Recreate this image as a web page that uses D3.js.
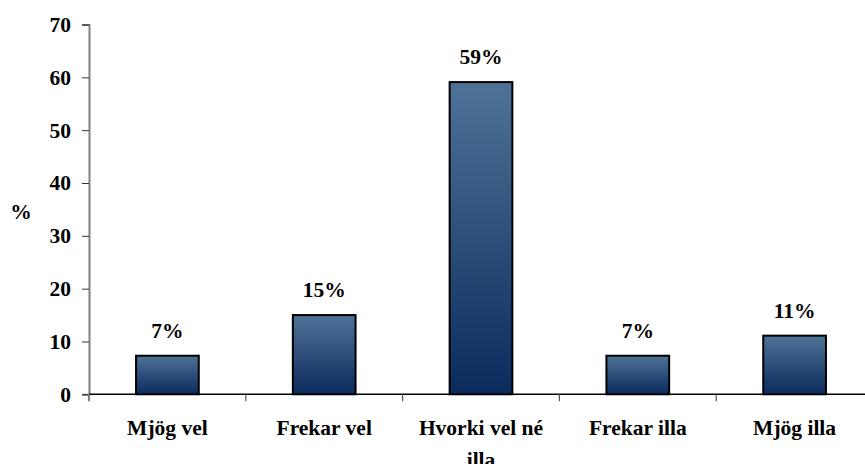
<!DOCTYPE html>
<html>
<head>
<meta charset="utf-8">
<script src="https://cdn.jsdelivr.net/npm/d3@7/dist/d3.min.js"></script>
<style>
  body { margin: 0; background: #fff; }
  svg text { font-family: "Liberation Serif", "Times New Roman", serif; font-weight: bold; fill: #000; }
</style>
</head>
<body>
<svg id="chart" width="865" height="464"></svg>
<script>
;(function(d3) {
    'use strict';

    // ---- data ----
    var categories = ['Mjög vel', 'Frekar vel', 'Hvorki vel né illa', 'Frekar illa', 'Mjög illa'];
    var values = [7.3, 15.0, 59.1, 7.3, 11.1];
    var valueLabels = ['7%', '15%', '59%', '7%', '11%'];
    var yTicks = [0, 10, 20, 30, 40, 50, 60, 70];
    var yTitle = '%';

    var svg = d3.select('#chart');
    var left = 89, right = 873, top = 24.5, bottom = 394.3;
    var fs = 21.5;

    var x = d3.scaleBand()
        .domain(categories)
        .range([left, right])
        .paddingInner(0.6)
        .paddingOuter(0.3);

    var y = d3.scaleLinear()
        .domain([0, 70])
        .range([bottom, top]);

    // gradient for the bars
    var grad = svg.append('defs').append('linearGradient')
        .attr('id', 'barGrad')
        .attr('x1', 0).attr('y1', 0).attr('x2', 0).attr('y2', 1);
    grad.append('stop').attr('offset', '0%').attr('stop-color', '#4f7297');
    grad.append('stop').attr('offset', '100%').attr('stop-color', '#0b2b5d');

    // y axis
    var yAxis = svg.append('g')
        .attr('transform', 'translate(' + left + ',0)')
        .call(d3.axisLeft(y).tickValues(yTicks).tickSize(7).tickPadding(11));
    yAxis.select('.domain').attr('stroke', '#808080').attr('stroke-width', 2);
    yAxis.selectAll('.tick line').attr('stroke', '#333');
    yAxis.selectAll('.tick text')
        .attr('font-size', fs)
        .attr('font-family', '"Liberation Serif", serif')
        .attr('font-weight', 'bold');

    // x axis line + boundary ticks
    var xg = svg.append('g');
    xg.append('line')
        .attr('x1', left).attr('x2', right)
        .attr('y1', y(0)).attr('y2', y(0))
        .attr('stroke', '#000').attr('stroke-width', 1.5);
    var bounds = d3.range(categories.length + 1).map(function(i) { return left + i * x.step(); });
    xg.selectAll('line.bt')
        .data(bounds)
        .enter().append('line')
        .attr('class', 'bt')
        .attr('x1', function(d) { return d; })
        .attr('x2', function(d) { return d; })
        .attr('y1', y(0))
        .attr('y2', y(0) + 7)
        .attr('stroke', function(d, i) { return i === 0 ? '#808080' : '#555'; })
        .attr('stroke-width', function(d, i) { return i === 0 ? 2 : 1.2; });

    // bars
    svg.append('g').selectAll('rect')
        .data(values)
        .enter().append('rect')
        .attr('x', function(d, i) { return x(categories[i]); })
        .attr('y', function(d) { return y(d); })
        .attr('width', x.bandwidth())
        .attr('height', function(d) { return y(0) - y(d); })
        .attr('fill', 'url(#barGrad)')
        .attr('stroke', '#000')
        .attr('stroke-width', 2);

    // value labels
    svg.append('g').selectAll('text')
        .data(values)
        .enter().append('text')
        .attr('x', function(d, i) { return x(categories[i]) + x.bandwidth() / 2; })
        .attr('y', function(d) { return y(d) - 18; })
        .attr('text-anchor', 'middle')
        .attr('font-size', fs)
        .text(function(d, i) { return valueLabels[i]; });

    // category labels (wrapped like the original)
    var catLines = {
        'Hvorki vel né illa': ['Hvorki vel né', 'illa']
    };
    svg.append('g').selectAll('text')
        .data(categories)
        .enter().append('text')
        .attr('x', function(d) { return x(d) + x.bandwidth() / 2; })
        .attr('y', 435)
        .attr('text-anchor', 'middle')
        .attr('font-size', fs)
        .each(function(d) {
            var lines = catLines[d] || [d];
            var t = d3.select(this);
            lines.forEach(function(l, i) {
                t.append('tspan')
                    .attr('x', x(d) + x.bandwidth() / 2)
                    .attr('dy', i === 0 ? 0 : 32)
                    .text(l);
            });
        });

    // y title
    svg.append('text')
        .attr('x', 21)
        .attr('y', 219)
        .attr('text-anchor', 'middle')
        .attr('font-size', fs)
        .text(yTitle);

}(window.d3));
</script>
</body>
</html>
